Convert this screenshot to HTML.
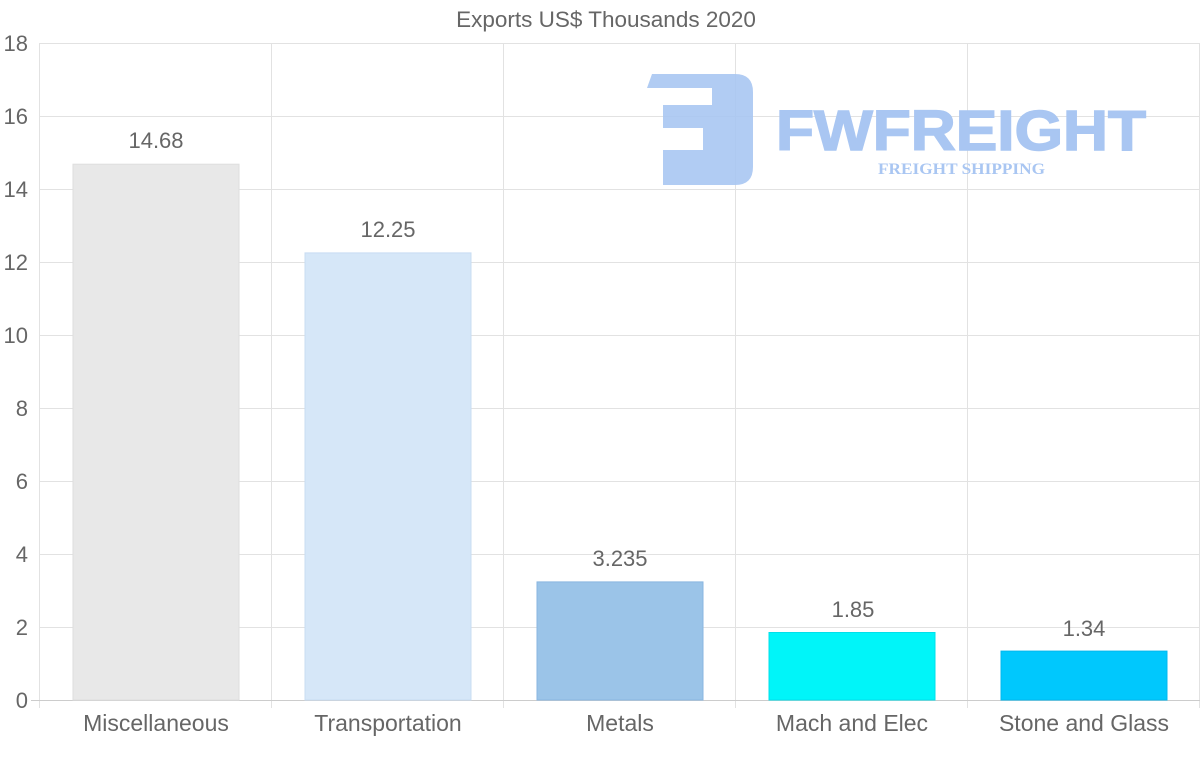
<!DOCTYPE html>
<html><head><meta charset="utf-8"><style>
body{margin:0;background:#fff;}
svg{display:block;font-family:"Liberation Sans",sans-serif;}
</style></head><body>
<svg width="1200" height="763" viewBox="0 0 1200 763">
<rect width="1200" height="763" fill="#fff"/>
<g stroke="#e2e2e2" stroke-width="1">
<line x1="39" y1="43.5" x2="1200" y2="43.5"/>
<line x1="39" y1="116.5" x2="1200" y2="116.5"/>
<line x1="39" y1="189.5" x2="1200" y2="189.5"/>
<line x1="39" y1="262.5" x2="1200" y2="262.5"/>
<line x1="39" y1="335.5" x2="1200" y2="335.5"/>
<line x1="39" y1="408.5" x2="1200" y2="408.5"/>
<line x1="39" y1="481.5" x2="1200" y2="481.5"/>
<line x1="39" y1="554.5" x2="1200" y2="554.5"/>
<line x1="39" y1="627.5" x2="1200" y2="627.5"/>
<line x1="39.5" y1="43" x2="39.5" y2="708"/>
<line x1="271.5" y1="43" x2="271.5" y2="708"/>
<line x1="503.5" y1="43" x2="503.5" y2="708"/>
<line x1="735.5" y1="43" x2="735.5" y2="708"/>
<line x1="967.5" y1="43" x2="967.5" y2="708"/>
<line x1="1199.5" y1="43" x2="1199.5" y2="708"/>
<line x1="31" y1="700.5" x2="1200" y2="700.5" stroke="#ccc"/>
</g>
<g fill="#a9c6f2" opacity="0.9">
<path d="M652 74 H735 Q753 74 753 92 V167 Q753 185 735 185 H663 V150 H703 V128 H663 V105 H712 V88 H647 Z"/>
</g>
<text x="776" y="150" font-size="57" font-weight="bold" fill="#a9c6f2" stroke="#a9c6f2" stroke-width="1.5" textLength="370" lengthAdjust="spacingAndGlyphs">FWFREIGHT</text>
<text x="878" y="174" font-size="16" font-weight="bold" fill="#a9c6f2" font-family="Liberation Serif,serif" textLength="167" lengthAdjust="spacingAndGlyphs">FREIGHT SHIPPING</text>
<rect x="73" y="164.2" width="166" height="535.8" fill="#e8e8e8" stroke="#dedede"/>
<rect x="305" y="252.9" width="166" height="447.1" fill="#d6e7f8" stroke="#c8dcf2"/>
<rect x="537" y="581.9" width="166" height="118.1" fill="#9bc4e8" stroke="#8ab6e0"/>
<rect x="769" y="632.5" width="166" height="67.5" fill="#00f5f9" stroke="#00e0ea"/>
<rect x="1001" y="651.1" width="166" height="48.9" fill="#00c8fd" stroke="#00b8ef"/>
<g font-size="22" fill="#666" text-anchor="middle">
<text x="156" y="148">14.68</text>
<text x="388" y="237">12.25</text>
<text x="620" y="566">3.235</text>
<text x="853" y="617">1.85</text>
<text x="1084" y="636">1.34</text>
<text x="156" y="731" font-size="23">Miscellaneous</text>
<text x="388" y="731" font-size="23">Transportation</text>
<text x="620" y="731" font-size="23">Metals</text>
<text x="852" y="731" font-size="23">Mach and Elec</text>
<text x="1084" y="731" font-size="23">Stone and Glass</text>
<text x="606" y="27" font-size="22.5">Exports US$ Thousands 2020</text>
</g>
<g font-size="22" fill="#666" text-anchor="end">
<text x="28" y="51">18</text>
<text x="28" y="124">16</text>
<text x="28" y="197">14</text>
<text x="28" y="270">12</text>
<text x="28" y="343">10</text>
<text x="28" y="416">8</text>
<text x="28" y="489">6</text>
<text x="28" y="562">4</text>
<text x="28" y="635">2</text>
<text x="28" y="708">0</text>
</g>
</svg>
</body></html>
